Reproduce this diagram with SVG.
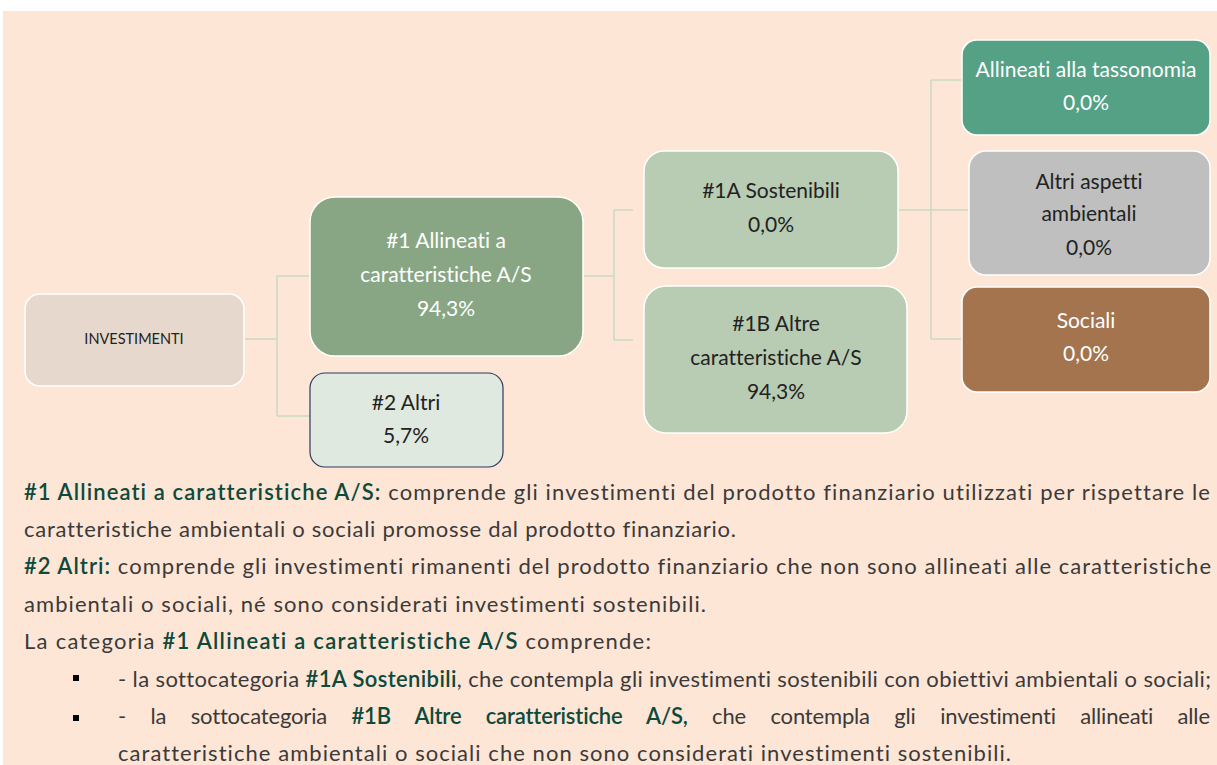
<svg xmlns="http://www.w3.org/2000/svg" width="1217" height="765" viewBox="0 0 1217 765">
<style>
text{font-variant-ligatures:none;font-feature-settings:"liga" 0,"clig" 0}
.bg{fill:#FDE6D6}
.n{stroke:#ffffff;stroke-width:1.5}
.t{font-family:Lato,"Liberation Sans",sans-serif;font-size:21px;text-anchor:middle}
.w{fill:#ffffff}
.d{fill:#222222}
.c{fill:none;stroke:#C9DAC1;stroke-width:1.5}
.b{font-family:Lato,"Liberation Sans",sans-serif;font-size:22px;fill:#3A3A3A}
.h{fill:#0D4A3C;font-weight:600}
</style>
<rect class="bg" x="3" y="11" width="1214" height="754"/>
<g id="connectors">
<path class="c" d="M244 339H277M277 276V416M277 276H310M277 416H310"/>
<path class="c" d="M583 276H614M614 210V340M614 210H633M614 340H633"/>
<path class="c" d="M898 210H931M931 80V339M931 80H962M931 210H969M931 339H962"/>
</g>
<g id="investimenti">
<rect class="n" x="25" y="294" width="219" height="92" rx="15" fill="#E6D8CC"/>
<text class="t d" x="134" y="344" style="font-size:14.5px">INVESTIMENTI</text>
</g>
<g id="n1">
<rect class="n" x="310" y="197" width="273" height="159" rx="25" fill="#88A683"/>
<text class="t w" x="446" y="248">#1 Allineati a</text>
<text class="t w" x="446" y="282">caratteristiche A/S</text>
<text class="t w" x="446" y="316">94,3%</text>
</g>
<g id="n2">
<rect x="310" y="373" width="193" height="94" rx="15" fill="#E0E9DF" stroke="#2F3A5F" stroke-width="1.2"/>
<text class="t d" x="406" y="410">#2 Altri</text>
<text class="t d" x="406" y="443">5,7%</text>
</g>
<g id="n1a">
<rect class="n" x="644" y="151" width="254" height="117" rx="20" fill="#B8CBB3"/>
<text class="t d" x="771" y="198">#1A Sostenibili</text>
<text class="t d" x="771" y="232">0,0%</text>
</g>
<g id="n1b">
<rect class="n" x="644" y="286" width="263" height="147" rx="22" fill="#B8CBB3"/>
<text class="t d" x="776" y="331">#1B Altre</text>
<text class="t d" x="776" y="365">caratteristiche A/S</text>
<text class="t d" x="776" y="399">94,3%</text>
</g>
<g id="tassonomia">
<rect class="n" x="962" y="40" width="248" height="95" rx="15" fill="#55A185"/>
<text class="t w" x="1086" y="77">Allineati alla tassonomia</text>
<text class="t w" x="1086" y="110">0,0%</text>
</g>
<g id="altri-ambientali">
<rect class="n" x="969" y="151" width="241" height="124" rx="17" fill="#BFBFBF"/>
<text class="t d" x="1089" y="189">Altri aspetti</text>
<text class="t d" x="1089" y="221">ambientali</text>
<text class="t d" x="1089" y="255">0,0%</text>
</g>
<g id="sociali">
<rect class="n" x="962" y="287" width="248" height="105" rx="15" fill="#A4744F"/>
<text class="t w" x="1086" y="328">Sociali</text>
<text class="t w" x="1086" y="361">0,0%</text>
</g>
<g id="legend">
<text class="b" x="24" y="500" textLength="1186" lengthAdjust="spacing"><tspan class="h">#1 Allineati a caratteristiche A/S:</tspan> comprende gli investimenti del prodotto finanziario utilizzati per rispettare le</text>
<text class="b" x="24" y="537" textLength="712" lengthAdjust="spacing">caratteristiche ambientali o sociali promosse dal prodotto finanziario.</text>
<text class="b" x="24" y="574" textLength="1187" lengthAdjust="spacing"><tspan class="h">#2 Altri:</tspan> comprende gli investimenti rimanenti del prodotto finanziario che non sono allineati alle caratteristiche</text>
<text class="b" x="24" y="612" textLength="682" lengthAdjust="spacing">ambientali o sociali, né sono considerati investimenti sostenibili.</text>
<text class="b" x="24" y="649" textLength="627" lengthAdjust="spacing">La categoria <tspan class="h">#1 Allineati a caratteristiche A/S</tspan> comprende:</text>
<rect x="73" y="675" width="6" height="6" fill="#000000"/>
<rect x="73" y="715" width="6" height="6" fill="#000000"/>
<text class="b" x="118" y="687" textLength="1093" lengthAdjust="spacing">- la sottocategoria <tspan class="h">#1A Sostenibili</tspan>, che contempla gli investimenti sostenibili con obiettivi ambientali o sociali;</text>
<text class="b" x="118" y="724" style="word-spacing:19px" textLength="1092" lengthAdjust="spacing">- la sottocategoria <tspan class="h">#1B Altre caratteristiche A/S,</tspan> che contempla gli investimenti allineati alle</text>
<text class="b" x="118" y="761" textLength="893" lengthAdjust="spacing">caratteristiche ambientali o sociali che non sono considerati investimenti sostenibili.</text>
</g>
</svg>
